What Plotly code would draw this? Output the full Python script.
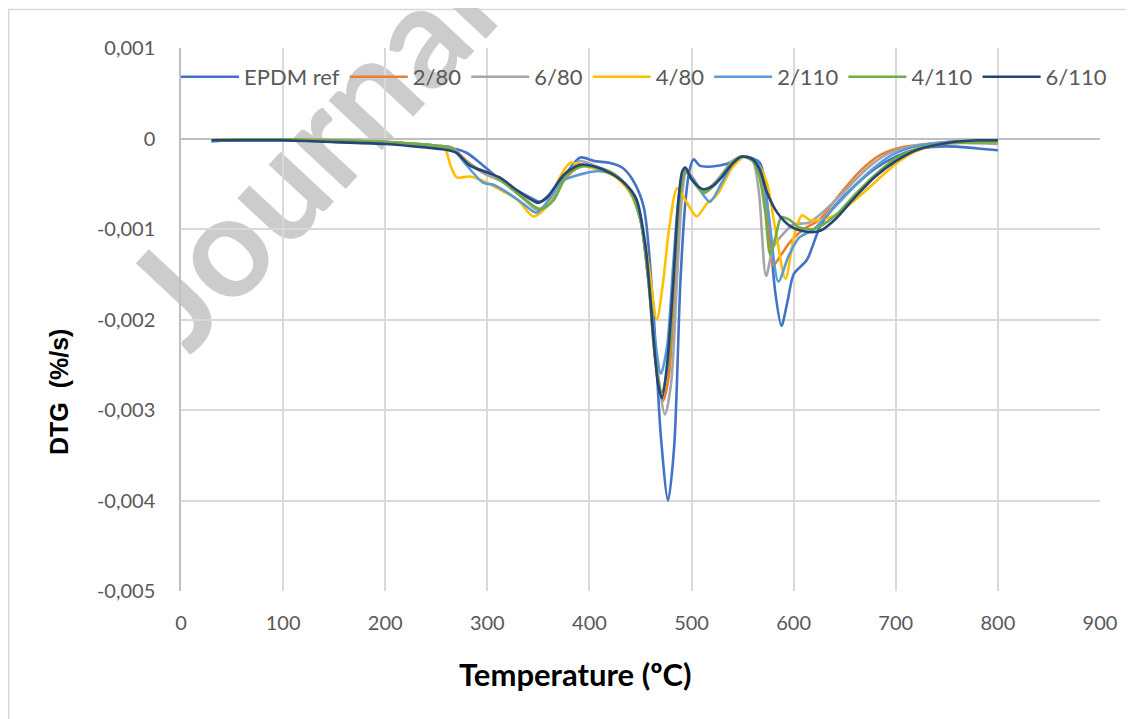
import plotly.graph_objects as go

# ---------------- data ----------------
T_epdm = [30, 60, 100, 150, 200, 250, 270, 280, 293, 312, 330, 345, 352, 362, 375, 391, 405, 420, 432, 442,
          453, 462, 470, 477, 483, 489, 494, 498, 502, 508, 520, 535, 550, 560, 567, 572, 577, 582, 588, 594,
          600, 613, 626, 640, 660, 680, 700, 720, 740, 760, 780, 800]
D_epdm = [-0.00003, -0.00002, -0.00002, -0.00003, -0.00005, -0.00009, -0.00012, -0.00016, -0.00027, -0.00045,
          -0.00058, -0.00067, -0.0007, -0.00062, -0.00042, -0.00021, -0.00025, -0.00027, -0.00032, -0.00045,
          -0.00075, -0.0018, -0.0033, -0.004, -0.0034, -0.0016, -0.0007, -0.00035, -0.00023, -0.0003,
          -0.00031, -0.00028, -0.0002, -0.00022, -0.00027, -0.0005, -0.0011, -0.0017, -0.00207, -0.0018,
          -0.0015, -0.00134, -0.00097, -0.00075, -0.00052, -0.00033, -0.0002, -0.00012, -0.00009, -0.00009,
          -0.00011, -0.00013]

T_2_80 = [30, 60, 100, 150, 200, 250, 265, 280, 296, 315, 335, 350, 362, 378, 393, 410, 425, 440, 450, 458,
          465, 472, 478, 484, 490, 494, 500, 512, 525, 540, 550, 560, 568, 574, 580, 588, 596, 610, 625, 645,
          665, 685, 705, 730, 760, 800]
D_2_80 = [-0.00002, -0.00001, -0.00001, -0.00002, -0.00004, -0.00008, -0.0001, -0.00025, -0.00038, -0.00048,
          -0.00065, -0.00078, -0.0007, -0.00042, -0.0003, -0.00033, -0.0004, -0.00058, -0.0009, -0.0016,
          -0.0025, -0.0029, -0.0026, -0.0015, -0.00055, -0.00033, -0.00042, -0.0006, -0.00048, -0.00027,
          -0.0002, -0.00024, -0.0004, -0.0009, -0.0014, -0.00128, -0.00115, -0.001, -0.0009, -0.00062,
          -0.00036, -0.00018, -0.0001, -0.00006, -0.00003, -0.00003]

T_6_80 = [30, 60, 100, 150, 200, 250, 265, 280, 296, 315, 335, 350, 362, 378, 390, 405, 425, 440, 450, 458,
          466, 474, 480, 486, 491, 495, 500, 512, 525, 540, 550, 560, 566, 573, 580, 590, 600, 615, 630, 650,
          670, 690, 710, 735, 765, 800]
D_6_80 = [-0.00002, -0.00001, -0.00001, -0.00002, -0.00004, -0.00008, -0.0001, -0.00026, -0.00038, -0.00048,
          -0.00066, -0.0008, -0.0007, -0.0004, -0.00025, -0.0003, -0.0004, -0.0006, -0.0009, -0.0015,
          -0.0025, -0.00305, -0.0027, -0.0015, -0.0006, -0.00036, -0.00043, -0.00058, -0.00046, -0.00025,
          -0.0002, -0.00025, -0.0006, -0.00152, -0.0012, -0.00105, -0.00095, -0.00093, -0.0008, -0.00058,
          -0.00035, -0.00018, -0.0001, -0.00006, -0.00005, -0.00006]

T_4_80 = [30, 60, 100, 150, 200, 250, 258, 264, 270, 283, 296, 315, 330, 345, 358, 370, 381, 395, 410, 425,
          440, 450, 458, 466, 472, 478, 486, 495, 505, 515, 525, 540, 552, 565, 574, 582, 592, 600, 608, 616,
          626, 640, 660, 680, 700, 720, 745, 770, 800]
D_4_80 = [-0.00002, -0.00001, -0.00001, -0.00002, -0.00004, -0.00008, -0.0001, -0.0003, -0.00043, -0.00042,
          -0.00047, -0.00058, -0.00068, -0.00086, -0.00075, -0.00045, -0.00027, -0.0003, -0.00035, -0.00042,
          -0.0006, -0.0009, -0.0014, -0.002, -0.0016, -0.001, -0.00055, -0.0007, -0.00086, -0.00072,
          -0.00062, -0.00032, -0.0002, -0.00028, -0.0005, -0.001, -0.00155, -0.0011, -0.00085, -0.0009,
          -0.0009, -0.00085, -0.00068, -0.00048, -0.00028, -0.00014, -0.00006, -0.00004, -0.00004]

T_2_110 = [30, 60, 100, 150, 200, 250, 265, 280, 296, 306, 320, 335, 348, 360, 372, 384, 397, 410, 425, 440,
           450, 457, 464, 470, 476, 482, 488, 493, 500, 510, 518, 530, 542, 552, 565, 575, 585, 595, 605, 620,
           635, 655, 675, 695, 715, 740, 770, 800]
D_2_110 = [-0.00003, -0.00002, -0.00002, -0.00002, -0.00004, -0.00008, -0.00011, -0.0003, -0.00049, -0.00051,
           -0.0006, -0.00072, -0.00082, -0.00068, -0.00048, -0.00042, -0.00038, -0.00036, -0.0004, -0.00058,
           -0.0009, -0.0015, -0.0022, -0.0026, -0.0023, -0.0014, -0.0006, -0.00038, -0.00042, -0.0006,
           -0.0007, -0.00048, -0.00025, -0.0002, -0.00028, -0.0008, -0.00158, -0.0013, -0.0011, -0.001,
           -0.00082, -0.00058, -0.00036, -0.00019, -0.0001, -0.00005, -0.00003, -0.00003]

T_4_110 = [30, 60, 100, 150, 200, 250, 265, 280, 292, 305, 320, 335, 352, 365, 378, 393, 410, 425, 440, 450,
           458, 464, 471, 477, 483, 489, 494, 500, 512, 525, 540, 550, 560, 566, 572, 577, 582, 588, 596, 605,
           620, 640, 660, 680, 700, 725, 755, 800]
D_4_110 = [-0.00002, -0.00001, -0.00001, -0.00002, -0.00004, -0.00008, -0.00011, -0.00027, -0.00034, -0.0004,
           -0.00052, -0.00066, -0.00078, -0.00068, -0.0004, -0.00031, -0.00033, -0.0004, -0.00058, -0.0009,
           -0.0016, -0.0024, -0.0028, -0.0025, -0.0015, -0.0006, -0.00035, -0.00045, -0.0006, -0.00048,
           -0.00026, -0.0002, -0.00025, -0.0004, -0.0008, -0.00128, -0.0011, -0.00087, -0.0009, -0.00098,
           -0.001, -0.00086, -0.00062, -0.0004, -0.00022, -0.0001, -0.00005, -0.00004]

T_6_110 = [30, 60, 100, 150, 200, 240, 262, 270, 283, 296, 312, 330, 342, 350, 360, 375, 391, 405, 420, 435,
           446, 455, 462, 467, 471, 476, 482, 487, 491, 494, 500, 511, 520, 530, 540, 549, 560, 567, 574, 584,
           597, 613, 626, 640, 660, 680, 700, 720, 750, 780, 800]
D_6_110 = [-0.00002, -0.00002, -0.00002, -0.00004, -0.00006, -0.0001, -0.00013, -0.00016, -0.0003, -0.00036,
           -0.00043, -0.00058, -0.00067, -0.00071, -0.00063, -0.0004, -0.00029, -0.00031, -0.00038, -0.0005,
           -0.00067, -0.0012, -0.0021, -0.0027, -0.00287, -0.0025, -0.0016, -0.0007, -0.00036, -0.00032,
           -0.00045, -0.00056, -0.00053, -0.00042, -0.00028, -0.0002, -0.00023, -0.00035, -0.0006, -0.00082,
           -0.00097, -0.00103, -0.00102, -0.0009, -0.00065, -0.00042, -0.00025, -0.00013, -0.00005, -0.00002,
           -0.00002]

series_names = ["EPDM ref", "2/80", "6/80", "4/80", "2/110", "4/110", "6/110"]
series_T = [T_epdm, T_2_80, T_6_80, T_4_80, T_2_110, T_4_110, T_6_110]
series_D = [D_epdm, D_2_80, D_6_80, D_4_80, D_2_110, D_4_110, D_6_110]
series_colors = ["#4472C4", "#ED7D31", "#A5A5A5", "#FFC000", "#5B9BD5", "#70AD47", "#264478"]

x_ticks = [0, 100, 200, 300, 400, 500, 600, 700, 800, 900]
y_ticks = [0.001, 0, -0.001, -0.002, -0.003, -0.004, -0.005]
y_ticktext = ["0,001", "0", "-0,001", "-0,002", "-0,003", "-0,004", "-0,005"]

# ---------------- figure ----------------
fig = go.Figure()
for name, tx, dy, col in zip(series_names, series_T, series_D, series_colors):
    fig.add_trace(go.Scatter(
        x=tx, y=dy, name=name, mode="lines",
        line=dict(color=col, width=2.6, shape="spline", smoothing=0.8),
    ))

W, H = 1134, 719
OFF = 8            # page body margin
ML, MR = 60, 10    # paper margins (plot area placed by axis domain)
GW = W - ML - MR
AX_L, AX_W = 173, 919     # x axis position inside the figure
T, ph = 40, 543
B = H - T - ph


def px_x(p):
    return (p - OFF - ML) / GW


def px_y(p):
    return (H - B - (p - OFF)) / ph


x_domain = [(AX_L - ML) / GW, (AX_L + AX_W - ML) / GW]

tick_font = dict(family="Lato, Roboto, sans-serif", size=20, color="#595959")

wm_x, wm_y = 305, 149  # watermark centre (screen px)

fig.update_layout(
    width=W, height=H,
    margin=dict(l=ML, r=MR, t=T, b=B, autoexpand=False),
    paper_bgcolor="white", plot_bgcolor="white",
    showlegend=True,
    legend=dict(
        orientation="h", x=px_x(176), xanchor="left", y=px_y(56), yanchor="top",
        bgcolor="rgba(0,0,0,0)", font=dict(family="Lato, Roboto, sans-serif", size=22, color="#595959"),
        itemwidth=58, tracegroupgap=0,
    ),
    xaxis=dict(
        domain=x_domain, range=[0, 900], tickvals=x_ticks, showgrid=True, gridcolor="#D9D9D9",
        gridwidth=1.5, zeroline=False, showline=False, ticks="", tickfont=tick_font, ticklabelstandoff=18,
        automargin=False,
    ),
    yaxis=dict(
        range=[-0.005, 0.001], tickvals=y_ticks, ticktext=y_ticktext, showgrid=True,
        gridcolor="#D9D9D9", gridwidth=1.5, zeroline=True, zerolinecolor="#BFBFBF", zerolinewidth=2,
        showline=True, linecolor="#BFBFBF", linewidth=1.5, ticks="", tickfont=tick_font,
        ticklabelstandoff=20, automargin=False,
    ),
    annotations=[
        dict(text="Temperature (ºC)", x=px_x(575), y=px_y(674), xref="paper", yref="paper",
             showarrow=False, xanchor="center", yanchor="middle",
             font=dict(family="Lato, Roboto, sans-serif", size=31, color="black", weight="bold")),
        dict(text="DTG  (%/s)", x=px_x(59), y=px_y(392), xref="paper", yref="paper",
             showarrow=False, xanchor="center", yanchor="middle", textangle=-90,
             font=dict(family="Liberation Sans, Arial, sans-serif", size=25, color="black", weight="bold")),
    ],
    shapes=[
        dict(type="rect", xref="paper", yref="paper", x0=px_x(8.75), x1=px_x(1160), y0=px_y(760),
             y1=px_y(9.5), line=dict(color="#D9D9D9", width=1.5), fillcolor="rgba(0,0,0,0)", layer="below"),
        dict(type="rect", xref="paper", yref="paper",
             x0=px_x(wm_x - 2), x1=px_x(wm_x + 2), y0=px_y(wm_y + 2), y1=px_y(wm_y - 2),
             line=dict(width=0), fillcolor="rgba(0,0,0,0)", layer="between",
             label=dict(text="Journal", textangle=-47, textposition="middle center",
                        font=dict(family="Lato, Roboto, sans-serif", size=142, weight="bold",
                                  color="#CCCCCC"))),
    ],
)

fig.write_html("out.html")
